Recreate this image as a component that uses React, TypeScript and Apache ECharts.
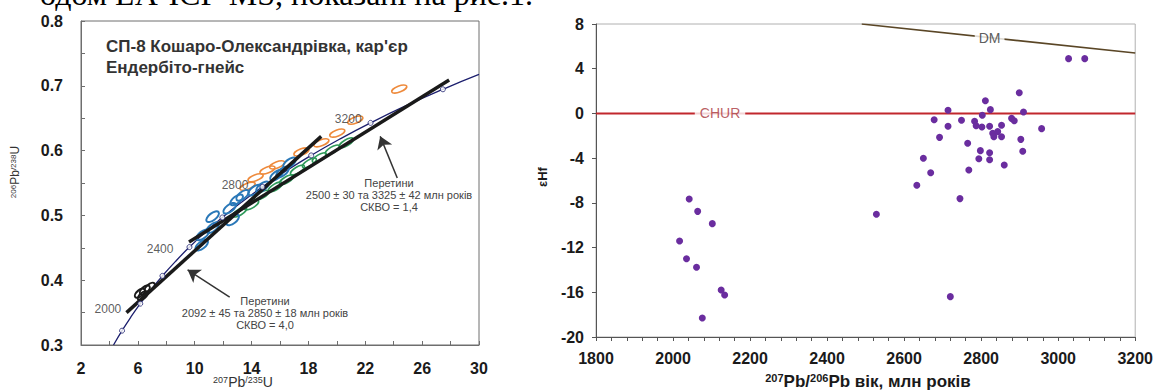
import React, { useEffect, useRef } from "react";
import * as echarts from "echarts";

// ---------- Left chart: U-Pb concordia diagram ----------
const concordiaAge = [1691, 1800, 1900, 2000, 2100, 2200, 2300, 2400, 2500, 2600, 2700, 2800, 2900, 3000, 3100, 3200, 3300, 3400, 3487];
const concordiaX = [4.289, 4.887, 5.496, 6.169, 6.91, 7.729, 8.633, 9.63, 10.73, 11.944, 13.283, 14.762, 16.393, 18.193, 20.18, 22.372, 24.79, 27.46, 30.0];
const concordiaY = [0.3, 0.3221, 0.3428, 0.3638, 0.3851, 0.4067, 0.4287, 0.4511, 0.4738, 0.4968, 0.5202, 0.544, 0.5681, 0.5926, 0.6175, 0.6428, 0.6685, 0.6946, 0.7175];
const concordiaMarkerAges = [1800, 2000, 2200, 2400, 2600, 2800, 3000, 3200, 3400];
const concordiaLabelAges = [2000, 2400, 2800, 3200];

const discordia1X = [5.2, 18.9];
const discordia1Y = [0.35, 0.622];
const discordia2X = [9.6, 27.9];
const discordia2Y = [0.459, 0.709];

const orangeX = [24.39, 21.3, 20.03, 18.91, 17.51, 15.12, 14.28, 13.72, 15.8];
const orangeY = [0.695, 0.647, 0.627, 0.612, 0.598, 0.57, 0.558, 0.545, 0.578];
const blueX = [16.67, 16.18, 15.75, 14.77, 14.21, 13.37, 12.95, 12.46, 12.67, 11.26, 11.26, 10.56, 10.49];
const blueY = [0.581, 0.567, 0.562, 0.544, 0.539, 0.531, 0.524, 0.511, 0.493, 0.498, 0.481, 0.47, 0.454];
const greenX = [20.67, 19.68, 18.77, 18.07, 17.23, 16.46, 15.68, 14.7, 14.0, 13.16];
const greenY = [0.612, 0.601, 0.589, 0.581, 0.57, 0.555, 0.544, 0.531, 0.516, 0.505];
const blackX = [6.14, 6.49, 6.84, 6.35];
const blackY = [0.38, 0.385, 0.389, 0.376];

const arrowUpperX = [24.25, 23.05];
const arrowUpperY = [0.5577, 0.622];
const arrowLowerX = [12.46, 9.5];
const arrowLowerY = [0.374, 0.416];

const titleLines = ["СП-8 Кошаро-Олександрівка, кар'єр", "Ендербіто-гнейс"];
const noteUpper = ["Перетини", "2500 ± 30 та 3325 ± 42 млн років", "СКВО = 1,4"];
const noteLower = ["Перетини", "2092 ± 45 та 2850 ± 18 млн років", "СКВО = 4,0"];

// ---------- Right chart: epsilon Hf vs age ----------
const hfAge = [3027, 3069, 2899, 2811, 2714, 2824, 2910, 2803, 2678, 2749, 2783, 2879, 2886, 2714, 2787, 2802, 2822, 2853, 2957, 2830, 2843, 2833, 2853, 2692, 2903, 2765, 2798, 2822, 2908, 2794, 2822, 2650, 2860, 2669, 2768, 2633, 2745, 2042, 2064, 2102, 2017, 2035, 2061, 2125, 2134, 2076, 2528, 2720];
const hfEps = [4.9, 4.9, 1.85, 1.14, 0.28, 0.34, 0.13, -0.17, -0.56, -0.61, -0.7, -0.44, -0.65, -1.15, -1.1, -1.21, -1.15, -1.06, -1.36, -1.78, -1.63, -2.08, -2.08, -2.14, -2.32, -2.67, -3.33, -3.51, -3.39, -4.05, -4.14, -4.01, -4.61, -5.3, -5.06, -6.43, -7.62, -7.66, -8.76, -9.86, -11.41, -13.0, -13.76, -15.79, -16.24, -18.3, -9.02, -16.39];
const churX = [1800, 3200];
const churY = [0, 0];
const churLabelAt = [2122, 0];
const dmX = [2490, 3200];
const dmY = [8, 5.4];
const dmLabelAt = [2822, 6.78];

const FONT = '"Liberation Sans", Arial, sans-serif';

function ellipseSeries(xs: number[], ys: number[], color: string, rx: number, ry: number, rot: number, lw: number) {
  return {
    type: "custom",
    coordinateSystem: "cartesian2d",
    xAxisIndex: 0,
    yAxisIndex: 0,
    silent: true,
    z: 3,
    data: xs.map((x, i) => [x, ys[i]]),
    renderItem: (_params: any, api: any) => {
      const p = api.coord([api.value(0), api.value(1)]);
      return {
        type: "ellipse",
        x: p[0],
        y: p[1],
        rotation: rot,
        shape: { cx: 0, cy: 0, rx, ry },
        style: { fill: "rgba(255,255,255,0)", stroke: color, lineWidth: lw },
      };
    },
  };
}

const ageLabelOffsets = [[-5, 5], [-2, 2], [0, -2], [5, -4]];

function buildOption() {
  const concordiaData = concordiaX.map((x, i) => [x, concordiaY[i]]);
  const markerData = concordiaAge
    .map((a, i) => (concordiaMarkerAges.indexOf(a) >= 0 ? [concordiaX[i], concordiaY[i]] : null))
    .filter((d) => d !== null);
  const ageLabelData = concordiaLabelAges.map((a, k) => {
    const i = concordiaAge.indexOf(a);
    return {
      value: [concordiaX[i], concordiaY[i], a],
      label: { offset: ageLabelOffsets[k] },
    };
  });

  const axisLabelBase = { fontFamily: FONT, fontWeight: "bold", fontSize: 16, color: "#1a1a1a" };

  const noteText = (lines: string[], cx: number, y0: number) =>
    lines.map((t, i) => ({
      type: "text",
      x: cx,
      y: y0 + i * 12,
      silent: true,
      z: 50,
      style: { text: t, font: `11px ${FONT}`, fill: "#444", textAlign: "center", verticalAlign: "middle" },
    }));

  return {
    animation: false,
    backgroundColor: "#ffffff",
    grid: [
      { left: 81, top: 21, width: 398, height: 324, show: true, borderColor: "#6e6e6e", borderWidth: 1, backgroundColor: "transparent" },
      { left: 596, top: 24, width: 540, height: 313, show: true, borderColor: "#b0b0b0", borderWidth: 1, backgroundColor: "transparent" },
    ],
    xAxis: [
      {
        gridIndex: 0,
        type: "value",
        min: 2,
        max: 30,
        interval: 2,
        axisLine: { show: true, onZero: false, lineStyle: { color: "#6e6e6e", width: 1 } },
        axisTick: { show: true, inside: true, length: 4, lineStyle: { color: "#6e6e6e" } },
        splitLine: { show: false },
        axisLabel: { ...axisLabelBase, margin: 15, formatter: (v: number) => (Math.round(v - 2) % 4 === 0 ? String(Math.round(v)) : "") },
      },
      {
        gridIndex: 1,
        type: "value",
        min: 1800,
        max: 3200,
        interval: 200,
        axisLine: { show: true, onZero: false, lineStyle: { color: "#555", width: 1 } },
        axisTick: { show: true, inside: false, length: 4, lineStyle: { color: "#555" } },
        minorTick: { show: true, splitNumber: 5, length: 4, lineStyle: { color: "#555" } },
        splitLine: { show: false },
        minorSplitLine: { show: false },
        axisLabel: { ...axisLabelBase, margin: 13, formatter: (v: number) => String(Math.round(v)) },
      },
    ],
    yAxis: [
      {
        gridIndex: 0,
        type: "value",
        min: 0.3,
        max: 0.8,
        interval: 0.1,
        axisLine: { show: true, onZero: false, lineStyle: { color: "#6e6e6e", width: 1 } },
        axisTick: { show: true, inside: true, length: 4, lineStyle: { color: "#6e6e6e" } },
        minorTick: { show: true, splitNumber: 2, length: 4, lineStyle: { color: "#6e6e6e" } },
        splitLine: { show: false },
        minorSplitLine: { show: false },
        axisLabel: { ...axisLabelBase, margin: 18, formatter: (v: number) => v.toFixed(1) },
      },
      {
        gridIndex: 1,
        type: "value",
        min: -20,
        max: 8,
        interval: 4,
        axisLine: { show: true, onZero: false, lineStyle: { color: "#555", width: 1 } },
        axisTick: { show: true, inside: false, length: 4, lineStyle: { color: "#555" } },
        splitLine: { show: false },
        axisLabel: { ...axisLabelBase, margin: 12, formatter: (v: number) => String(Math.round(v)) },
      },
    ],
    graphic: [
      {
        type: "text",
        x: 533,
        y: -6,
        silent: true,
        style: { text: "одом LA-ICP-MS, показані на рис.1.", font: '32px "Liberation Serif", "Times New Roman", serif', fill: "#000", textAlign: "right", verticalAlign: "middle" },
      },
      {
        type: "text",
        x: 106,
        y: 46,
        silent: true,
        z: 50,
        style: { text: titleLines[0], font: `bold 17px ${FONT}`, fill: "#333", textAlign: "left", verticalAlign: "middle" },
      },
      {
        type: "text",
        x: 106,
        y: 67,
        silent: true,
        z: 50,
        style: { text: titleLines[1], font: `bold 17px ${FONT}`, fill: "#333", textAlign: "left", verticalAlign: "middle" },
      },
      ...noteText(noteUpper, 389, 183),
      ...noteText(noteLower, 265, 301),
      {
        type: "text",
        x: 243,
        y: 382,
        silent: true,
        style: {
          text: "{s|207}{l|Pb}{s|/235}{l|U}",
          textAlign: "center",
          verticalAlign: "middle",
          rich: {
            s: { fontSize: 9, fontFamily: FONT, fill: "#333", verticalAlign: "top" },
            l: { fontSize: 14, fontFamily: FONT, fill: "#333", verticalAlign: "bottom" },
          },
        },
      },
      {
        type: "text",
        x: 15,
        y: 172,
        rotation: Math.PI / 2,
        silent: true,
        style: {
          text: "{s|206}{l|Pb}{s|/238}{l|U}",
          textAlign: "center",
          verticalAlign: "middle",
          rich: {
            s: { fontSize: 8, fontFamily: FONT, fill: "#333", verticalAlign: "top" },
            l: { fontSize: 12, fontFamily: FONT, fill: "#333", verticalAlign: "bottom" },
          },
        },
      },
      {
        type: "text",
        x: 868,
        y: 381,
        silent: true,
        style: {
          text: "{s|207}{l|Pb/}{s|206}{l|Pb вік, млн років}",
          textAlign: "center",
          verticalAlign: "middle",
          rich: {
            s: { fontSize: 11, fontWeight: "bold", fontFamily: FONT, fill: "#1a1a1a", verticalAlign: "top" },
            l: { fontSize: 17, fontWeight: "bold", fontFamily: FONT, fill: "#1a1a1a", verticalAlign: "bottom" },
          },
        },
      },
      {
        type: "text",
        x: 542,
        y: 177,
        rotation: Math.PI / 2,
        silent: true,
        style: { text: "εHf", font: `bold 13px ${FONT}`, fill: "#1a1a1a", textAlign: "center", verticalAlign: "middle" },
      },
    ],
    series: [
      // Left chart
      {
        type: "line",
        xAxisIndex: 0,
        yAxisIndex: 0,
        data: concordiaData,
        smooth: true,
        showSymbol: false,
        silent: true,
        z: 2,
        lineStyle: { color: "#1c1f6e", width: 1.3 },
      },
      ellipseSeries(orangeX, orangeY, "#ee8a3c", 8, 3, 0.38, 1.6),
      ellipseSeries(greenX, greenY, "#2f9a5a", 8, 3, 0.55, 1.6),
      ellipseSeries(blueX, blueY, "#2a78b8", 7.5, 3.5, 0.65, 2),
      ellipseSeries(blackX, blackY, "#1a1a1a", 6, 3, 0.7, 2),
      {
        type: "line",
        xAxisIndex: 0,
        yAxisIndex: 0,
        data: discordia1X.map((x, i) => [x, discordia1Y[i]]),
        showSymbol: false,
        silent: true,
        z: 4,
        lineStyle: { color: "#1a1a1a", width: 3.5 },
      },
      {
        type: "line",
        xAxisIndex: 0,
        yAxisIndex: 0,
        data: discordia2X.map((x, i) => [x, discordia2Y[i]]),
        showSymbol: false,
        silent: true,
        z: 4,
        lineStyle: { color: "#1a1a1a", width: 3.5 },
      },
      {
        type: "scatter",
        xAxisIndex: 0,
        yAxisIndex: 0,
        data: markerData,
        symbol: "circle",
        symbolSize: 5,
        silent: true,
        z: 5,
        itemStyle: { color: "#ffffff", borderColor: "#1c1f6e", borderWidth: 1 },
      },
      {
        type: "scatter",
        xAxisIndex: 0,
        yAxisIndex: 0,
        data: ageLabelData,
        symbolSize: 0,
        silent: true,
        z: 6,
        label: {
          show: true,
          position: "left",
          distance: 14,
          formatter: (p: any) => String(p.value[2]),
          fontFamily: FONT,
          fontSize: 12,
          color: "#333",
        },
      },
      {
        type: "lines",
        coordinateSystem: "cartesian2d",
        xAxisIndex: 0,
        yAxisIndex: 0,
        silent: true,
        z: 7,
        symbol: ["none", "arrow"],
        symbolSize: 12,
        lineStyle: { color: "#333", width: 1.5, opacity: 1 },
        data: [
          { coords: [[arrowUpperX[0], arrowUpperY[0]], [arrowUpperX[1], arrowUpperY[1]]] },
          { coords: [[arrowLowerX[0], arrowLowerY[0]], [arrowLowerX[1], arrowLowerY[1]]] },
        ],
      },
      // Right chart
      {
        type: "line",
        xAxisIndex: 1,
        yAxisIndex: 1,
        data: churX.map((x, i) => [x, churY[i]]),
        showSymbol: false,
        silent: true,
        z: 2,
        lineStyle: { color: "#c1272d", width: 2 },
      },
      {
        type: "line",
        xAxisIndex: 1,
        yAxisIndex: 1,
        data: dmX.map((x, i) => [x, dmY[i]]),
        showSymbol: false,
        silent: true,
        z: 2,
        lineStyle: { color: "#5a4626", width: 1.6 },
      },
      {
        type: "scatter",
        xAxisIndex: 1,
        yAxisIndex: 1,
        data: [churLabelAt],
        symbolSize: 0,
        silent: true,
        z: 3,
        itemStyle: { color: "transparent" },
        label: {
          show: true,
          position: "inside",
          formatter: "CHUR",
          fontFamily: FONT,
          fontSize: 14,
          color: "#a8343a",
          backgroundColor: "#ffffff",
          padding: [1, 5],
        },
      },
      {
        type: "scatter",
        xAxisIndex: 1,
        yAxisIndex: 1,
        data: [dmLabelAt],
        symbolSize: 0,
        silent: true,
        z: 3,
        itemStyle: { color: "transparent" },
        label: {
          show: true,
          position: "inside",
          formatter: "DM",
          fontFamily: FONT,
          fontSize: 14,
          color: "#333",
          backgroundColor: "#ffffff",
          padding: [1, 4],
        },
      },
      {
        type: "scatter",
        xAxisIndex: 1,
        yAxisIndex: 1,
        data: hfAge.map((a, i) => [a, hfEps[i]]),
        symbol: "circle",
        symbolSize: 7,
        silent: true,
        z: 5,
        itemStyle: { color: "#6a2d9f", opacity: 1 },
      },
    ],
  };
}

export default function App() {
  const ref = useRef<HTMLDivElement>(null);
  useEffect(() => {
    if (!ref.current) return;
    const chart = echarts.init(ref.current, undefined, { renderer: "svg" });
    chart.setOption(buildOption() as any);
    return () => chart.dispose();
  }, []);
  return (
    <div
      ref={ref}
      style={{ position: "fixed", left: 0, top: 0, width: 1156, height: 390, background: "#ffffff" }}
    />
  );
}
